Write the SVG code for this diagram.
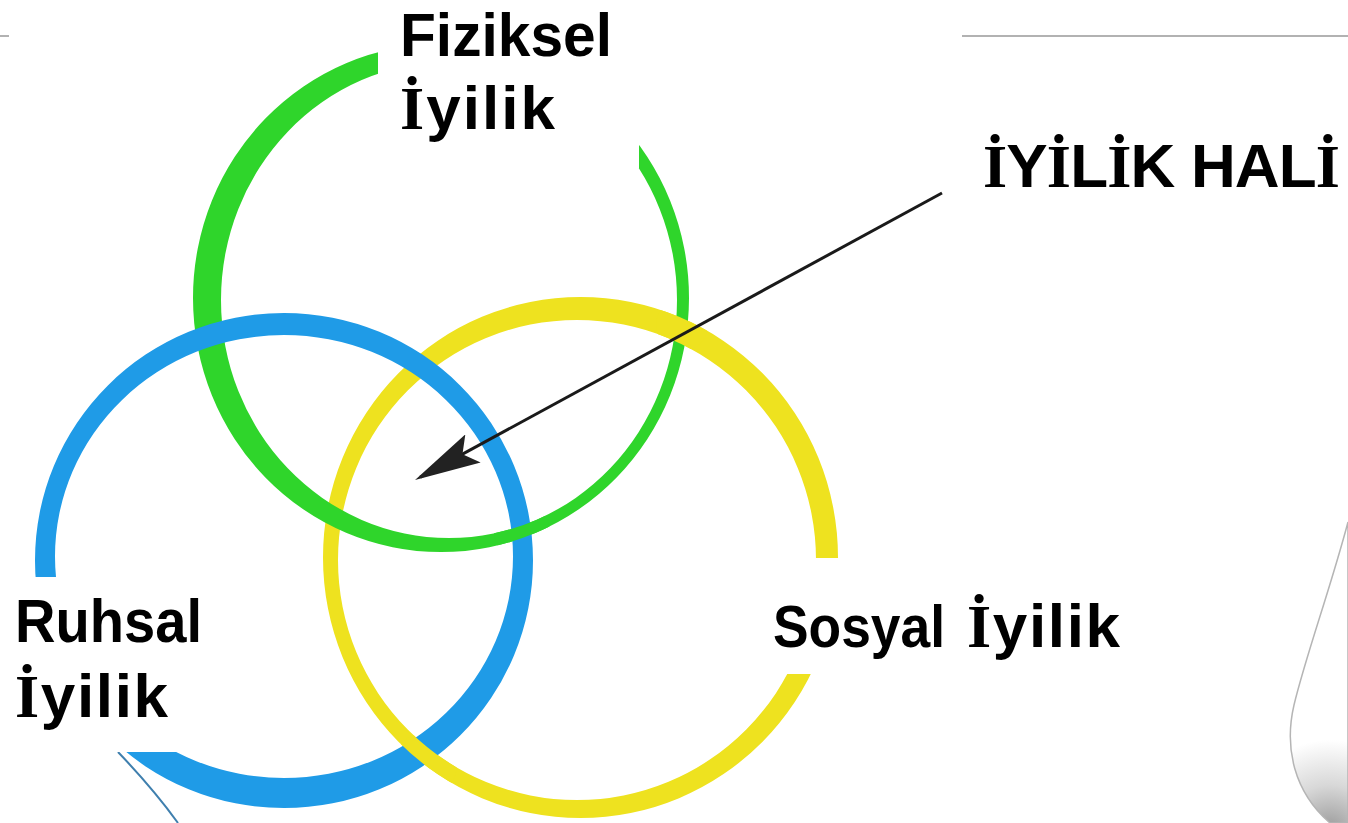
<svg xmlns="http://www.w3.org/2000/svg" xmlns:xlink="http://www.w3.org/1999/xlink" width="1348" height="823" viewBox="0 0 1348 823">
<style>
.lbl{font-family:"Liberation Sans",Arial,sans-serif;font-weight:bold;font-size:62px;fill:#000}
.ser{font-family:"Liberation Serif","Times New Roman",serif;font-weight:bold}
.box{fill:#fff}
</style>
<defs>
<path id="green" fill="#2fd52b" fill-rule="evenodd" d="M193,298 a248,254 0 1,0 496,0 a248,254 0 1,0 -496,0 Z M221,300 a228,238 0 1,0 456,0 a228,238 0 1,0 -456,0 Z"/>
<path id="blue" fill="#1f9be7" fill-rule="evenodd" d="M35,560.5 a249,247.5 0 1,0 498,0 a249,247.5 0 1,0 -498,0 Z M55,556.5 a229,221.5 0 1,0 458,0 a229,221.5 0 1,0 -458,0 Z"/>
<path id="yellow" fill="#eee21f" fill-rule="evenodd" d="M323,557.5 a257.5,260.5 0 1,0 515,0 a257.5,260.5 0 1,0 -515,0 Z M338,560 a239,240 0 1,0 478,0 a239,240 0 1,0 -478,0 Z"/>
<clipPath id="cGB"><circle cx="522" cy="532" r="28"/></clipPath>
<clipPath id="cYB"><circle cx="425" cy="765" r="32"/></clipPath>
<clipPath id="cYG"><circle cx="682" cy="325" r="26"/></clipPath>
<radialGradient id="glass" cx="1330" cy="830" r="90" gradientUnits="userSpaceOnUse">
<stop offset="0" stop-color="#9a9a9a"/><stop offset="0.5" stop-color="#d8d8d8"/><stop offset="1" stop-color="#ffffff"/>
</radialGradient>
<marker id="ah" viewBox="0 0 66 32" refX="60" refY="16" markerWidth="66" markerHeight="32" markerUnits="userSpaceOnUse" orient="auto">
<path d="M66,16 L0,0 L12,16 L0,32 Z" fill="#222"/>
</marker>
</defs>
<rect width="1348" height="823" fill="#fff"/>
<g id="frame-lines" stroke="#999" stroke-width="1.5">
<line x1="0" y1="36" x2="9" y2="36"/>
<line x1="962" y1="36" x2="1348" y2="36"/>
</g>
<path id="glass-shape" d="M1348,522 C1330,590 1306,655 1294,705 C1284,748 1294,792 1330,823 L1348,823 Z" fill="url(#glass)" stroke="#b5b5b5" stroke-width="1.5"/>
<g id="rings">
<use xlink:href="#yellow"/>
<use xlink:href="#green"/>
<use xlink:href="#blue"/>
<use xlink:href="#green" clip-path="url(#cGB)"/>
<use xlink:href="#yellow" clip-path="url(#cYB)"/>
<use xlink:href="#yellow" clip-path="url(#cYG)"/>
<path d="M118,752 C140,775 160,798 178,823" fill="none" stroke="#3f7fae" stroke-width="2"/>
</g>
<g id="fiziksel">
<rect class="box" x="378" y="0" width="261" height="168"/>
<text class="lbl" x="400" y="56" font-size="61" style="font-size:61px" textLength="212" lengthAdjust="spacingAndGlyphs">Fiziksel</text>
<text class="lbl" x="400" y="129" textLength="155"><tspan class="ser">İ</tspan>yilik</text>
</g>
<g id="ruhsal">
<rect class="box" x="0" y="577" width="245" height="175"/>
<text class="lbl" x="15" y="642" textLength="187" lengthAdjust="spacingAndGlyphs">Ruhsal</text>
<text class="lbl" x="15" y="717" textLength="153"><tspan class="ser">İ</tspan>yilik</text>
</g>
<g id="sosyal">
<rect class="box" x="770" y="558" width="370" height="116"/>
<text class="lbl" x="773" y="647" style="font-size:59px" textLength="172" lengthAdjust="spacingAndGlyphs">Sosyal</text>
<text class="lbl" x="967" y="647" textLength="153"><tspan class="ser">İ</tspan>yilik</text>
</g>
<g id="iyilik-hali">
<text class="lbl" x="983" y="187" textLength="357"><tspan class="ser">İ</tspan>Y<tspan class="ser">İ</tspan>L<tspan class="ser">İ</tspan>K HAL<tspan class="ser">İ</tspan></text>
</g>
<g id="connectors">
<line x1="942" y1="193" x2="420.3" y2="477.1" stroke="#1a1a1a" stroke-width="3" marker-end="url(#ah)"/>
</g>
</svg>
